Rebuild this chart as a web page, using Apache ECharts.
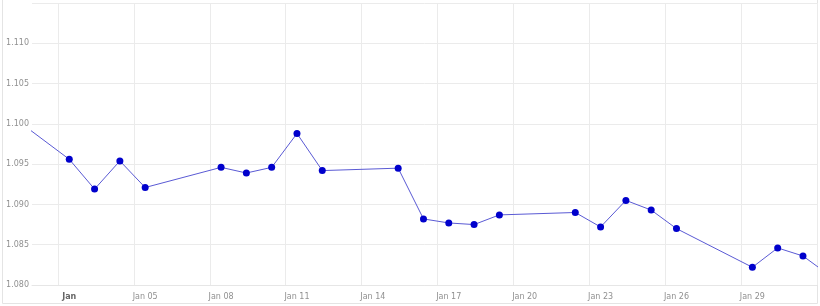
<!DOCTYPE html>
<html>
<head>
<meta charset="utf-8">
<script src="https://cdn.jsdelivr.net/npm/echarts@6/dist/echarts.min.js"></script>
<style>
html,body{margin:0;padding:0;background:#fff;}
#chart{width:820px;height:306px;}
</style>
</head>
<body>
<div id="chart"></div>
<script>
// Day of January 2024 (Dec 29 = -2, Feb 1 = 32)
const days = [-2, 2, 3, 4, 5, 8, 9, 10, 11, 12, 15, 16, 17, 18, 19, 22, 23, 24, 25, 26, 29, 30, 31, 32];
const rates = [1.1050, 1.0956, 1.0919, 1.0954, 1.0921, 1.0946, 1.0939, 1.0946, 1.0988, 1.0942, 1.0945,
               1.0882, 1.0877, 1.0875, 1.0887, 1.0890, 1.0872, 1.0905, 1.0893, 1.0870, 1.0822, 1.0846, 1.0836, 1.0813];
const labelDays = [2, 5, 8, 11, 14, 17, 20, 23, 26, 29];
const tickLabels = ['Jan', 'Jan 05', 'Jan 08', 'Jan 11', 'Jan 14', 'Jan 17', 'Jan 20', 'Jan 23', 'Jan 26', 'Jan 29'];
const gridDays = [1.554, 4.554, 7.554, 10.554, 13.554, 16.554, 19.554, 22.554, 25.554, 28.554, 31.554];

const chart = echarts.init(document.getElementById('chart'), null, {renderer: 'canvas'});
const font = 'DejaVu Sans';
chart.setOption({
  animation: false,
  backgroundColor: '#fff',
  graphic: [{
    type: 'rect', silent: true, z: -1,
    shape: {x: 2.5, y: -5, width: 815, height: 308.5},
    style: {fill: 'none', stroke: '#e4e4e4', lineWidth: 1}
  }],
  grid: {left: 32, right: 3, top: 3, bottom: 21, containLabel: false},
  xAxis: {
    type: 'value',
    min: 0.527,
    max: 31.554,
    axisLine: {show: true, lineStyle: {color: '#e6e6e6'}},
    axisTick: {show: false, customValues: gridDays},
    splitLine: {show: true, lineStyle: {color: '#ebebeb', width: 1}},
    axisLabel: {
      customValues: labelDays,
      margin: 8,
      fontSize: 8,
      fontFamily: font,
      color: '#909090',
      formatter: function (v) {
        const i = labelDays.indexOf(Math.round(v));
        if (i < 0) return '';
        return i === 0 ? '{b|' + tickLabels[i] + '}' : tickLabels[i];
      },
      rich: {b: {fontWeight: 'bold', color: '#666', fontSize: 8, fontFamily: font}}
    }
  },
  yAxis: {
    type: 'value',
    min: 1.080,
    max: 1.115,
    interval: 0.005,
    axisLine: {show: false},
    axisTick: {show: false},
    splitLine: {show: true, lineStyle: {color: '#ebebeb', width: 1}},
    axisLabel: {
      showMaxLabel: false,
      margin: 3,
      fontSize: 8,
      fontFamily: font,
      color: '#909090',
      formatter: function (v) { return v.toFixed(3); }
    }
  },
  series: [{
    type: 'line',
    data: days.map((d, i) => [d, rates[i]]),
    clip: true,
    symbol: 'circle',
    symbolSize: 7,
    showAllSymbol: true,
    itemStyle: {color: '#0000cc'},
    lineStyle: {color: '#5a5ad4', width: 1}
  }]
});
</script>
</body>
</html>
